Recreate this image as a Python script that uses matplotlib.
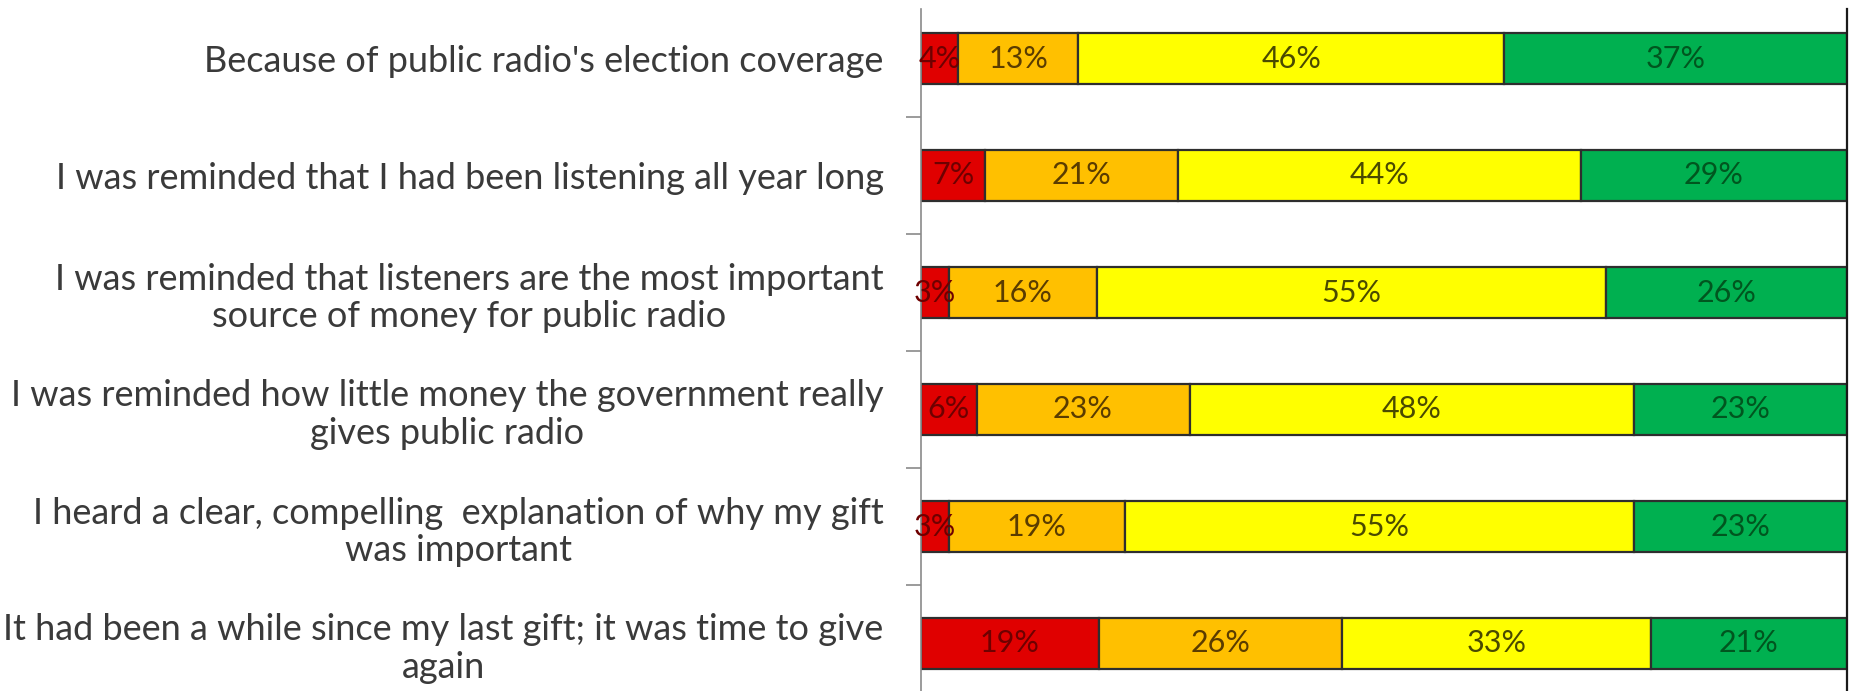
import matplotlib.pyplot as plt
import numpy as np

categories = [
    "Because of public radio's election coverage",
    "I was reminded that I had been listening all year long",
    "I was reminded that listeners are the most important\nsource of money for public radio",
    "I was reminded how little money the government really\ngives public radio",
    "I heard a clear, compelling  explanation of why my gift\nwas important",
    "It had been a while since my last gift; it was time to give\nagain",
]
red_vals = [4, 7, 3, 6, 3, 19]
orange_vals = [13, 21, 16, 23, 19, 26]
yellow_vals = [46, 44, 55, 48, 55, 33]
green_vals = [37, 29, 26, 23, 23, 21]

series = [red_vals, orange_vals, yellow_vals, green_vals]
bar_colors = ['#e00000', '#ffc000', '#ffff00', '#00b050']
text_colors = ['#6e0000', '#5a3c00', '#4a4a00', '#00561f']

plt.rcParams['font.family'] = ['Lato', 'DejaVu Sans']

fig = plt.figure(figsize=(18.51, 6.91), dpi=100)
ax = fig.add_axes([921 / 1851, 0, 926 / 1851, 682 / 691])

data = np.array(series, dtype=float)
totals = data.sum(axis=0)
shares = data / totals * 100
y = np.arange(len(categories))

left = np.zeros(len(categories))
for vals, share, col, tcol in zip(series, shares, bar_colors, text_colors):
    ax.barh(y, share, left=left, height=0.43, color=col,
            edgecolor='#2e2e2e', linewidth=1.6)
    for i in range(len(categories)):
        ax.text(left[i] + share[i] / 2, y[i], f"{vals[i]}%",
                ha='center', va='center', fontsize=22, color=tcol)
    left += share

ax.set_xlim(0, 100)
ax.set_ylim(-0.5 + 691 / 117, -0.5 + 9 / 117)

ax.set_yticks(y)
ax.set_yticklabels(categories, fontsize=26, color='#3a3a3a',
                   multialignment='center', linespacing=1.15)
ax.tick_params(axis='y', which='major', length=0, pad=27)
ax.set_yticks(np.arange(len(categories) - 1) + 0.5, minor=True)
ax.tick_params(axis='y', which='minor', length=11, width=1.2,
               color='#8a8a8a', direction='out')
ax.set_xticks([])

ax.spines['top'].set_visible(False)
ax.spines['bottom'].set_visible(False)
ax.spines['left'].set_color('#8a8a8a')
ax.spines['left'].set_linewidth(1.2)
ax.spines['right'].set_color('#1a1a1a')
ax.spines['right'].set_linewidth(1.6)

fig.savefig('out.png', dpi=100)
